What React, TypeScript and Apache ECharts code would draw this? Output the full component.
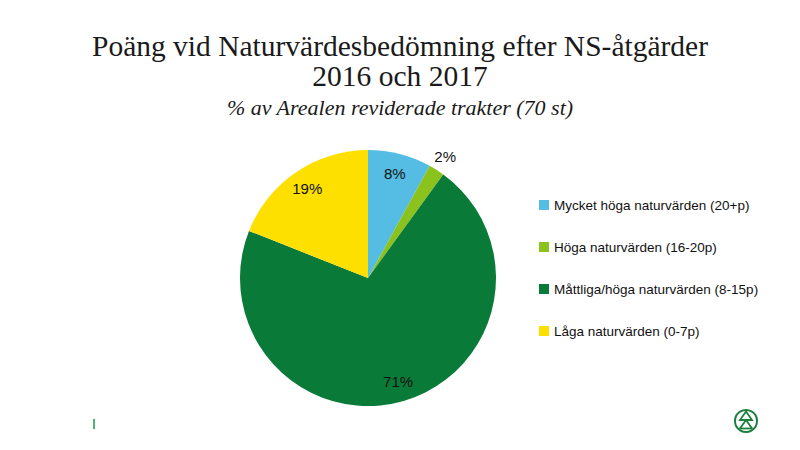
import React, { useEffect, useRef } from "react";
import * as echarts from "echarts";

const categories = [
  "Mycket höga naturvärden (20+p)",
  "Höga naturvärden (16-20p)",
  "Måttliga/höga naturvärden (8-15p)",
  "Låga naturvärden (0-7p)",
];
const values = [8, 2, 71, 19];
const colors = ["#55BCE4", "#8CC21E", "#0A7A38", "#FDE000"];
const titleLines = ["Poäng vid Naturvärdesbedömning efter NS-åtgärder", "2016 och 2017"];
const subtitle = "% av Arealen reviderade trakter (70 st)";

export default function App() {
  const ref = useRef<HTMLDivElement>(null);
  useEffect(() => {
    if (!ref.current) return;
    const chart = echarts.init(ref.current, null, { renderer: "svg" });
    const center = [368, 278];
    const labelFmt = (p: any) => `${p.value}%`;
    const baseData = categories.map((name, i) => ({
      name,
      value: values[i],
      itemStyle: { color: colors[i] },
    }));
    const overlayData = (show: number[]) =>
      categories.map((name, i) => ({
        name,
        value: values[i],
        itemStyle: { color: "rgba(0,0,0,0)" },
        label: { show: show.includes(i) },
      }));
    const overlayLabel = {
      show: true,
      position: "inside",
      formatter: labelFmt,
      color: "#111",
      fontSize: 15,
      fontFamily: "Liberation Sans, Arial, sans-serif",
    };
    chart.setOption({
      animation: false,
      backgroundColor: "#fff",
      title: [
        {
          text: titleLines.join("\n"),
          left: "center",
          top: 26,
          textStyle: {
            fontFamily: "Liberation Serif, serif",
            fontSize: 29.5,
            lineHeight: 30,
            fontWeight: "normal",
            color: "#1a1a1a",
          },
        },
        {
          text: subtitle,
          left: "center",
          top: 91,
          textStyle: {
            fontFamily: "Liberation Serif, serif",
            fontSize: 22,
            fontStyle: "italic",
            fontWeight: "normal",
            color: "#1a1a1a",
          },
        },
      ],
      legend: {
        orient: "vertical",
        left: 534,
        top: 193,
        data: categories,
        icon: "rect",
        itemWidth: 10,
        itemHeight: 10,
        itemGap: 28,
        selectedMode: false,
        textStyle: {
          fontSize: 13.5,
          lineHeight: 14,
          color: "#111",
          fontFamily: "Liberation Sans, Arial, sans-serif",
        },
      },
      series: [
        {
          type: "pie",
          center,
          radius: 128,
          startAngle: 90,
          clockwise: true,
          label: { show: false },
          labelLine: { show: false },
          silent: true,
          data: baseData,
        },
        {
          type: "pie",
          center,
          radius: [0, 210],
          startAngle: 90,
          silent: true,
          label: overlayLabel,
          labelLine: { show: false },
          data: overlayData([0, 2, 3]),
        },
        {
          type: "pie",
          center,
          radius: [0, 282],
          startAngle: 90,
          silent: true,
          label: overlayLabel,
          labelLine: { show: false },
          data: overlayData([1]),
        },
      ],
      graphic: [
        {
          type: "line",
          shape: { x1: 94, y1: 419, x2: 94, y2: 429 },
          style: { stroke: "#1a9a4a", lineWidth: 1.5 },
        },
        {
          type: "circle",
          shape: { cx: 746, cy: 421, r: 11 },
          style: { fill: "none", stroke: "#1b7f3c", lineWidth: 2 },
        },
        {
          type: "polygon",
          shape: { points: [[746, 411.5], [752, 420], [740, 420]] },
          style: { fill: "none", stroke: "#1b7f3c", lineWidth: 1.8 },
        },
        {
          type: "polyline",
          shape: { points: [[740, 428.5], [746, 420], [752, 428.5]] },
          style: { fill: "none", stroke: "#1b7f3c", lineWidth: 1.8 },
        },
        {
          type: "line",
          shape: { x1: 739.5, y1: 428.5, x2: 752.5, y2: 428.5 },
          style: { stroke: "#1b7f3c", lineWidth: 1.8 },
        },
      ],
    });
    return () => chart.dispose();
  }, []);
  return (
    <div
      ref={ref}
      style={{ position: "fixed", left: 0, top: 0, width: 800, height: 450 }}
    />
  );
}
